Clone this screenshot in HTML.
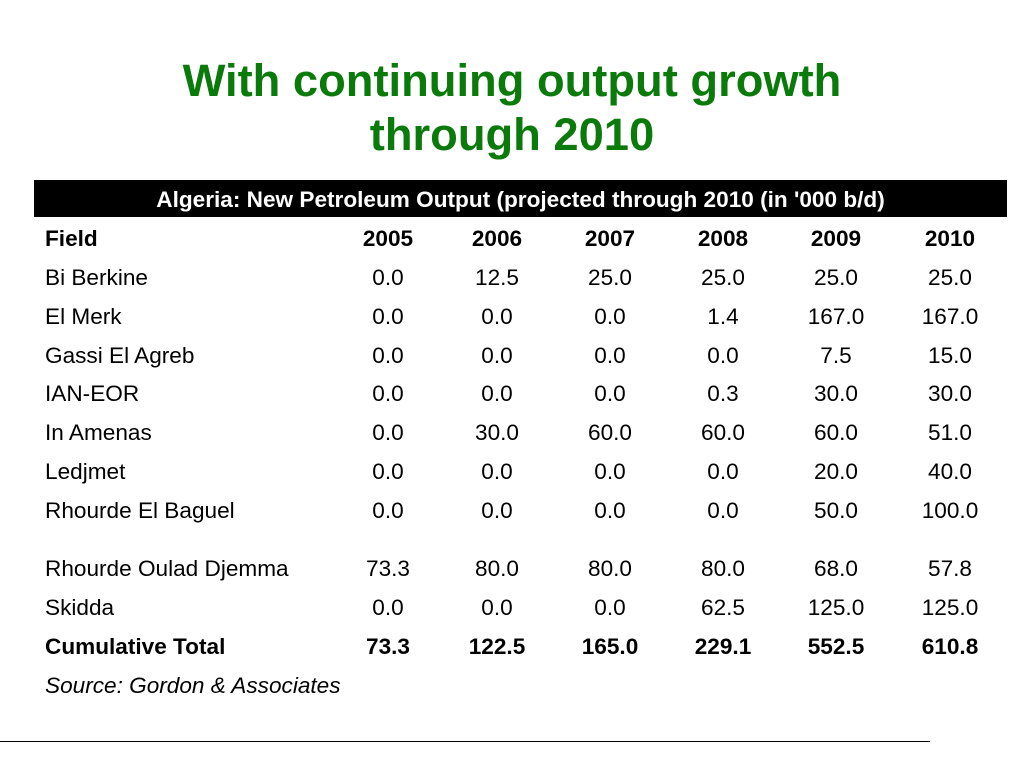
<!DOCTYPE html>
<html><head><meta charset="utf-8"><style>
body{margin:0;width:1024px;height:768px;background:#fff;position:relative;overflow:hidden;font-family:"Liberation Sans",Arial,sans-serif;}
.title{position:absolute;left:0;width:1024px;text-align:center;color:#0a7a0a;font-weight:bold;font-size:45.3px;line-height:54px;top:54px;}
.hdr{position:absolute;left:34px;top:180px;width:973px;height:37px;background:#000;color:#fff;font-weight:bold;font-size:22.6px;line-height:40px;text-align:center;}
.row{position:absolute;left:0;width:1024px;height:30px;font-size:22.6px;line-height:30px;color:#000;}
.row span{position:absolute;white-space:nowrap;}
.row .f{left:45px;}
.row .v{width:100px;text-align:center;}
.b{font-weight:bold;}
.src{position:absolute;left:45px;top:673px;font-size:22.6px;line-height:26px;font-style:italic;}
.rule{position:absolute;left:0;top:741px;width:930px;height:1px;background:#000;}
</style></head><body>
<div class="title">With continuing output growth<br>through 2010</div>
<div class="hdr">Algeria: New Petroleum Output (projected through 2010 (in '000 b/d)</div>
<div id="tbl"></div>
<div class="src">Source: Gordon &amp; Associates</div>
<div class="rule"></div>
<script>
const years=["2005","2006","2007","2008","2009","2010"];
const fields=["Bi Berkine","El Merk","Gassi El Agreb","IAN-EOR","In Amenas","Ledjmet","Rhourde El Baguel","Rhourde Oulad Djemma","Skidda","Cumulative Total"];
const values=[
["0.0","12.5","25.0","25.0","25.0","25.0"],
["0.0","0.0","0.0","1.4","167.0","167.0"],
["0.0","0.0","0.0","0.0","7.5","15.0"],
["0.0","0.0","0.0","0.3","30.0","30.0"],
["0.0","30.0","60.0","60.0","60.0","51.0"],
["0.0","0.0","0.0","0.0","20.0","40.0"],
["0.0","0.0","0.0","0.0","50.0","100.0"],
["73.3","80.0","80.0","80.0","68.0","57.8"],
["0.0","0.0","0.0","62.5","125.0","125.0"],
["73.3","122.5","165.0","229.1","552.5","610.8"]];
const rowTops=[263,302,341,379,418,457,496,554,593,632];
const colCenters=[388,497,610,723,836,950];
const tbl=document.getElementById('tbl');
function mkRow(top,label,cells,bold,name){
  const r=document.createElement('div');
  r.className='row'+(bold?' b':'');r.style.top=top+'px';
  
  
  const f=document.createElement('span');f.className='f';f.textContent=label;
  
  
  r.appendChild(f);
  cells.forEach((c,i)=>{const s=document.createElement('span');s.className='v';
    s.style.left=(colCenters[i]-50)+'px';s.textContent=c;
    
    
    r.appendChild(s);});
  tbl.appendChild(r);
}
mkRow(224,'Field',years,true,'column-header-row');
fields.forEach((f,i)=>mkRow(rowTops[i],f,values[i],i===fields.length-1,i===fields.length-1?'total-row':'field-row'));
</script>
</body></html>
